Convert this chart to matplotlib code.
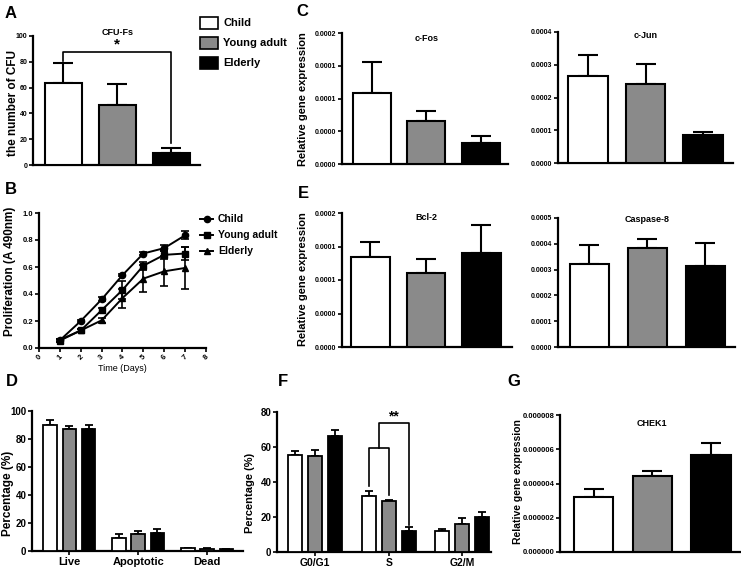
import matplotlib
matplotlib.use("Agg")
import matplotlib.pyplot as plt
from matplotlib.patches import Rectangle
from matplotlib.lines import Line2D

plt.rcParams['font.family'] = ['Liberation Sans', 'DejaVu Sans']
plt.rcParams['font.weight'] = 'bold'

W, H = 741, 568
groups = ["Child", "Young adult", "Elderly"]
colors = ["white", "#8a8a8a", "black"]

# Panel A
cfu_vals = [63.6, 46.5, 9.0]
cfu_errs = [15.2, 16.3, 3.9]

# Panel B
days = [1, 2, 3, 4, 5, 6, 7]
prol_child = [0.057, 0.20, 0.36, 0.54, 0.70, 0.74, 0.835]
prol_young = [0.055, 0.13, 0.28, 0.43, 0.61, 0.69, 0.70]
prol_elderly = [0.06, 0.13, 0.205, 0.37, 0.514, 0.568, 0.593]
prol_child_err = [0.01, 0.01, 0.015, 0.01, 0.01, 0.025, 0.03]
prol_young_err = [0.01, 0.01, 0.02, 0.07, 0.03, 0.03, 0.05]
prol_elderly_err = [0.01, 0.01, 0.02, 0.07, 0.10, 0.11, 0.155]

# Panel C
cfos_vals = [1.08e-4, 6.6e-5, 3.2e-5]
cfos_errs = [4.8e-5, 1.5e-5, 1.1e-5]
cjun_vals = [2.65e-4, 2.41e-4, 8.5e-5]
cjun_errs = [6.5e-5, 6.1e-5, 1.0e-5]

# Panel E
bcl2_vals = [1.34e-4, 1.10e-4, 1.40e-4]
bcl2_errs = [2.2e-5, 2.1e-5, 4.2e-5]
casp8_vals = [3.22e-4, 3.84e-4, 3.14e-4]
casp8_errs = [7.3e-5, 3.5e-5, 8.9e-5]

# Panel D
apo_cats = ["Live", "Apoptotic", "Dead"]
apo_child = [90.3, 9.0, 1.8]
apo_young = [87.4, 12.1, 1.6]
apo_elderly = [87.4, 12.6, 1.2]
apo_child_err = [3.5, 3.1, 0.3]
apo_young_err = [2.1, 2.2, 0.3]
apo_elderly_err = [2.9, 2.8, 0.3]

# Panel F
cyc_cats = ["G0/G1", "S", "G2/M"]
cyc_child = [55.3, 31.9, 12.0]
cyc_young = [54.8, 29.2, 15.8]
cyc_elderly = [66.4, 12.0, 19.8]
cyc_child_err = [2.7, 3.0, 1.4]
cyc_young_err = [3.6, 0.6, 3.7]
cyc_elderly_err = [3.6, 2.3, 3.3]

# Panel G
chek1_vals = [3.24e-6, 4.41e-6, 5.67e-6]
chek1_errs = [0.45e-6, 0.33e-6, 0.72e-6]

# tick labels
fos_ticks = [0, 5e-5, 1e-4, 1.5e-4, 2e-4]
fos_ticklabels = ["0.0000", "0.0000", "0.0001", "0.0001", "0.0002"]
jun_ticks = [0, 1e-4, 2e-4, 3e-4, 4e-4]
jun_ticklabels = ["0.0000", "0.0001", "0.0002", "0.0003", "0.0004"]
casp_ticks = [0, 1e-4, 2e-4, 3e-4, 4e-4, 5e-4]
casp_ticklabels = ["0.0000", "0.0001", "0.0002", "0.0003", "0.0004", "0.0005"]
chek_ticks = [0, 2e-6, 4e-6, 6e-6, 8e-6]
chek_ticklabels = ["0.000000", "0.000002", "0.000004", "0.000006", "0.000008"]

fig = plt.figure(figsize=(W / 100, H / 100), dpi=100)


def add_ax(x0, x1, ytop, ybot):
    ax = fig.add_axes([x0 / W, 1 - ybot / H, (x1 - x0) / W, (ybot - ytop) / H])
    ax.patch.set_alpha(0)
    for s in ["top", "right"]:
        ax.spines[s].set_visible(False)
    for s in ["left", "bottom"]:
        ax.spines[s].set_linewidth(1.6)
    ax.tick_params(axis='y', direction='out', length=3, width=1.2, pad=1)
    ax.tick_params(axis='x', direction='out', length=3, width=1.2, pad=1)
    return ax


def ylab(text, px, ytop, ybot, fs):
    fig.text(px / W, 1 - (ytop + ybot) / 2 / H, text, rotation=90, ha='center', va='center',
             fontsize=fs, fontweight='bold')


def simple_bars(ax, vals, errs, width, lw=1.5, cs=5):
    for i, (v, e, c) in enumerate(zip(vals, errs, colors)):
        ax.bar(i, v, width, color=c, edgecolor='black', linewidth=lw, zorder=3)
        ax.errorbar(i, v, yerr=[[0], [e]], fmt='none', ecolor='black',
                    elinewidth=lw, capsize=cs, capthick=lw, zorder=2)
    ax.set_xticks([])


def grouped_bars(ax, series, serrs, width, offset, lw=1.3, cs=3):
    for k, (vals, errs) in enumerate(zip(series, serrs)):
        for i, (v, e) in enumerate(zip(vals, errs)):
            x = i + (k - 1) * offset
            ax.bar(x, v, width, color=colors[k], edgecolor='black', linewidth=lw, zorder=3)
            ax.errorbar(x, v, yerr=[[0], [e]], fmt='none', ecolor='black',
                        elinewidth=lw, capsize=cs, capthick=lw, zorder=2)


# ---------- Panel A ----------
axA = add_ax(33, 200, 36, 165)
simple_bars(axA, cfu_vals, cfu_errs, 0.69, cs=7)
axA.set_xlim(-0.565, 2.53)
axA.set_ylim(0, 100)
axA.set_yticks([0, 20, 40, 60, 80, 100])
axA.tick_params(axis='y', labelsize=5)
ylab("the number of CFU", 13, 43, 163, 8.5)
topL = cfu_vals[0] + cfu_errs[0] + 1.5
topR = cfu_vals[2] + cfu_errs[2] + 4.5
barh = 87.6
axA.plot([0, 0, 2, 2], [topL, barh, barh, topR], color='black', lw=1.2, clip_on=False, zorder=4)
axA.text(1, 93.5, "*", ha='center', va='center', fontsize=11, fontweight='bold')
axA.text(1, 102.5, "CFU-Fs", ha='center', va='center', fontsize=6.5, fontweight='bold')

# legend A
for k, g in enumerate(groups):
    yc = 23 + 20 * k
    fig.patches.append(Rectangle((200 / W, 1 - (yc + 5.5) / H), 18 / W, 11 / H,
                                 facecolor=colors[k], edgecolor='black', linewidth=1.2,
                                 transform=fig.transFigure, figure=fig))
    fig.text(223 / W, 1 - yc / H, g, fontsize=8, fontweight='bold', va='center', ha='left')

# ---------- Panel C ----------
axC1 = add_ax(342, 508, 33, 164)
simple_bars(axC1, cfos_vals, cfos_errs, 0.70, cs=7)
axC1.set_xlim(-0.55, 2.50)
axC1.set_ylim(0, 2e-4)
axC1.set_yticks(fos_ticks)
axC1.set_yticklabels(fos_ticklabels, fontsize=5)
ylab("Relative gene expression", 303, 28, 170, 8)
axC1.text(1, 1.92e-4, "c-Fos", ha='center', va='center', fontsize=6.5, fontweight='bold')

axC2 = add_ax(558, 733, 32, 163)
simple_bars(axC2, cjun_vals, cjun_errs, 0.68, cs=7)
axC2.set_xlim(-0.52, 2.52)
axC2.set_ylim(0, 4e-4)
axC2.set_yticks(jun_ticks)
axC2.set_yticklabels(jun_ticklabels, fontsize=5)
axC2.text(1, 3.88e-4, "c-Jun", ha='center', va='center', fontsize=6.5, fontweight='bold')

# ---------- Panel B ----------
axB = add_ax(39, 206, 213, 348)
for vals, errs, mk in [(prol_child, prol_child_err, 'o'),
                       (prol_young, prol_young_err, 's'),
                       (prol_elderly, prol_elderly_err, '^')]:
    axB.errorbar(days, vals, yerr=errs, color='black', marker=mk, markersize=4.5,
                 lw=1.4, capsize=3, capthick=1.2, elinewidth=1.2, clip_on=False)
axB.set_xlim(0, 8)
axB.set_ylim(0, 1.0)
axB.set_xticks(range(0, 9))
axB.set_xticklabels([str(i) for i in range(0, 9)], rotation=45, fontsize=5.5)
axB.set_yticks([0, 0.2, 0.4, 0.6, 0.8, 1.0])
axB.set_yticklabels(["0.0", "0.2", "0.4", "0.6", "0.8", "1.0"], fontsize=5.5)
axB.set_xlabel("Time (Days)", fontsize=6.5, fontweight='normal', labelpad=2)
ylab("Proliferation (A 490nm)", 10, 195, 347, 8.5)

# legend B
for k, (g, mk) in enumerate(zip(groups, ['o', 's', '^'])):
    yc = 219 + 16 * k
    fig.lines.append(Line2D([200 / W, 213 / W], [1 - yc / H, 1 - yc / H], color='black',
                            lw=1.4, transform=fig.transFigure, figure=fig))
    fig.lines.append(Line2D([206.5 / W], [1 - yc / H], color='black', marker=mk,
                            markersize=4.5, transform=fig.transFigure, figure=fig))
    fig.text(218 / W, 1 - yc / H, g, fontsize=7.5, fontweight='bold', va='center', ha='left')

# ---------- Panel E ----------
axE1 = add_ax(342, 512, 213, 347)
simple_bars(axE1, bcl2_vals, bcl2_errs, 0.69, cs=7)
axE1.set_xlim(-0.51, 2.55)
axE1.set_ylim(0, 2e-4)
axE1.set_yticks(fos_ticks)
axE1.set_yticklabels(fos_ticklabels, fontsize=5)
ylab("Relative gene expression", 303, 208, 350, 8)
axE1.text(1, 1.93e-4, "Bcl-2", ha='center', va='center', fontsize=6.5, fontweight='bold')

axE2 = add_ax(558, 735, 218, 347)
simple_bars(axE2, casp8_vals, casp8_errs, 0.68, cs=7)
axE2.set_xlim(-0.54, 2.51)
axE2.set_ylim(0, 5e-4)
axE2.set_yticks(casp_ticks)
axE2.set_yticklabels(casp_ticklabels, fontsize=5)
axE2.text(1, 4.95e-4, "Caspase-8", ha='center', va='center', fontsize=6.5, fontweight='bold')

# ---------- Panel D ----------
axD = add_ax(32, 243, 411, 551)
grouped_bars(axD, [apo_child, apo_young, apo_elderly],
             [apo_child_err, apo_young_err, apo_elderly_err], 0.195, 0.28)
axD.set_xlim(-0.54, 2.52)
axD.set_ylim(0, 100)
axD.set_yticks([0, 20, 40, 60, 80, 100])
axD.tick_params(axis='y', labelsize=7)
axD.set_xticks([0, 1, 2])
axD.set_xticklabels(apo_cats, fontsize=8, fontweight='bold')
ylab("Percentage (%)", 8, 445, 542, 8.5)

# ---------- Panel F ----------
axF = add_ax(277, 491, 412, 552)
grouped_bars(axF, [cyc_child, cyc_young, cyc_elderly],
             [cyc_child_err, cyc_young_err, cyc_elderly_err], 0.19, 0.27)
axF.set_xlim(-0.52, 2.39)
axF.set_ylim(0, 80)
axF.set_yticks([0, 20, 40, 60, 80])
axF.tick_params(axis='y', labelsize=7)
axF.set_xticks([0, 1, 2])
axF.set_xticklabels(cyc_cats, fontsize=7.5, fontweight='bold')
ylab("Percentage (%)", 250, 448, 537, 8)
xs_c, xs_y, xs_e = 1 - 0.27, 1.0, 1 + 0.27
small_h = 59.6
axF.plot([xs_c, xs_c, xs_y, xs_y],
         [cyc_child[1] + cyc_child_err[1] + 3, small_h, small_h, cyc_young[1] + cyc_young_err[1] + 2.5],
         color='black', lw=1.2, zorder=4)
mid = (xs_c + xs_y) / 2
big_h = 73.7
axF.plot([mid, mid, xs_e, xs_e],
         [small_h, big_h, big_h, cyc_elderly[1] + cyc_elderly_err[1] + 1.2],
         color='black', lw=1.2, zorder=4)
axF.text((mid + xs_e) / 2, 77.5, "**", ha='center', va='center', fontsize=10, fontweight='bold')

# ---------- Panel G ----------
axG = add_ax(560, 740, 415, 552)
simple_bars(axG, chek1_vals, chek1_errs, 0.67, cs=7)
axG.set_xlim(-0.57, 2.49)
axG.set_ylim(0, 8e-6)
axG.set_yticks(chek_ticks)
axG.set_yticklabels(chek_ticklabels, fontsize=5.5)
ylab("Relative gene expression", 518, 417, 547, 7.5)
axG.text(1, 7.5e-6, "CHEK1", ha='center', va='center', fontsize=6.5, fontweight='bold')

# panel letters
for lab, x, y in [("A", 11, 14), ("C", 302, 12), ("B", 11, 190), ("E", 303, 194),
                  ("D", 12, 381), ("F", 283, 382), ("G", 514, 381)]:
    fig.text(x / W, 1 - y / H, lab, fontsize=12, fontweight='bold', ha='center', va='center')

fig.savefig("out.png", dpi=100)
